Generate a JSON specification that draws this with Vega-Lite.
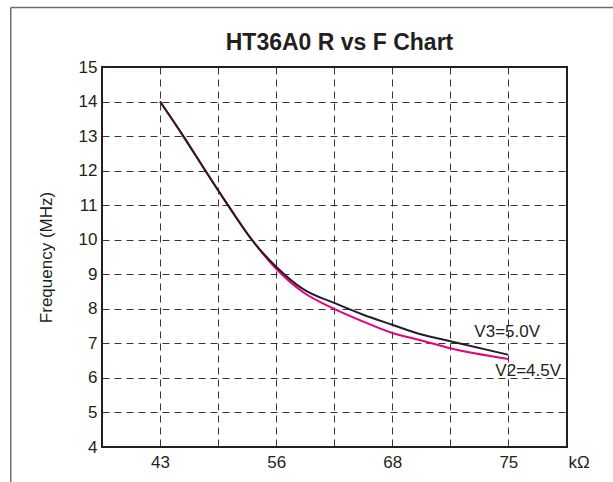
{
  "$schema": "https://vega.github.io/schema/vega-lite/v6.json",
  "autosize": {"type": "none"},
  "padding": {"left": 102, "top": 67, "right": 46, "bottom": 35},
  "width": 465,
  "height": 380,
  "background": "white",
  "title": {
    "text": "HT36A0 R vs F Chart",
    "font": "Liberation Sans",
    "fontSize": 23,
    "fontWeight": "bold",
    "color": "#231f20",
    "baseline": "alphabetic",
    "frame": "group",
    "offset": -65.75,
    "dx": 5
  },
  "config": {
    "view": {"stroke": "#231f20", "strokeWidth": 2},
    "font": "Liberation Sans"
  },
  "datasets": {
    "curves": [
      {"R": 43, "F": 14.0, "series": "V2=4.5V"},
      {"R": 45.6, "F": 13.0, "series": "V2=4.5V"},
      {"R": 48.07, "F": 12.0, "series": "V2=4.5V"},
      {"R": 50.6, "F": 11.0, "series": "V2=4.5V"},
      {"R": 53.27, "F": 10.0, "series": "V2=4.5V"},
      {"R": 56, "F": 9.16, "series": "V2=4.5V"},
      {"R": 58.8, "F": 8.48, "series": "V2=4.5V"},
      {"R": 62, "F": 8.0, "series": "V2=4.5V"},
      {"R": 65, "F": 7.63, "series": "V2=4.5V"},
      {"R": 68, "F": 7.3, "series": "V2=4.5V"},
      {"R": 69.66, "F": 7.1, "series": "V2=4.5V"},
      {"R": 71.5, "F": 6.86, "series": "V2=4.5V"},
      {"R": 75, "F": 6.55, "series": "V2=4.5V"},
      {"R": 43, "F": 14.0, "series": "V3=5.0V"},
      {"R": 45.6, "F": 13.0, "series": "V3=5.0V"},
      {"R": 48.07, "F": 12.0, "series": "V3=5.0V"},
      {"R": 50.6, "F": 11.0, "series": "V3=5.0V"},
      {"R": 53.27, "F": 10.0, "series": "V3=5.0V"},
      {"R": 56, "F": 9.22, "series": "V3=5.0V"},
      {"R": 58.8, "F": 8.57, "series": "V3=5.0V"},
      {"R": 62, "F": 8.17, "series": "V3=5.0V"},
      {"R": 65, "F": 7.83, "series": "V3=5.0V"},
      {"R": 68, "F": 7.54, "series": "V3=5.0V"},
      {"R": 69.66, "F": 7.27, "series": "V3=5.0V"},
      {"R": 71.5, "F": 7.06, "series": "V3=5.0V"},
      {"R": 75, "F": 6.67, "series": "V3=5.0V"}
    ]
  },
  "encoding": {
    "x": {
      "field": "R",
      "type": "quantitative",
      "scale": {"domain": [36.5, 43, 56, 68, 75, 78.5], "range": [0, 58.05, 174.15, 290.25, 406.35, 465], "nice": false, "zero": false},
      "axis": {
        "values": [43, 49.5, 56, 62, 68, 71.5, 75],
        "labelExpr": "indexof([43,56,68,75], datum.value) >= 0 ? datum.label : ''",
        "title": "kΩ",
        "titleX": 466,
        "titleY": 20,
        "titleAlign": "left",
        "titleBaseline": "alphabetic",
        "titleFont": "Liberation Sans",
        "titleFontSize": 17,
        "titleFontWeight": "normal",
        "titleColor": "#231f20",
        "labelFont": "Liberation Sans",
        "labelFontSize": 17,
        "labelColor": "#231f20",
        "labelBaseline": "alphabetic",
        "labelPadding": 20,
        "labelFlush": false,
        "labelOverlap": false,
        "tickSize": 0,
        "domain": false,
        "grid": true,
        "gridColor": "#231f20",
        "gridDash": [7, 5],
        "gridWidth": 1,
        "gridOpacity": 0.9
      }
    },
    "y": {
      "field": "F",
      "type": "quantitative",
      "scale": {"domain": [4, 15], "nice": false, "zero": false},
      "axis": {
        "values": [4, 5, 6, 7, 8, 9, 10, 11, 12, 13, 14, 15],
        "title": "Frequency (MHz)",
        "titleX": -56,
        "titleY": 190,
        "titleAngle": 270,
        "titleAlign": "center",
        "titleBaseline": "middle",
        "titleFont": "Liberation Sans",
        "titleFontSize": 17,
        "titleFontWeight": "normal",
        "titleColor": "#231f20",
        "labelFont": "Liberation Sans",
        "labelFontSize": 17,
        "labelColor": "#231f20",
        "labelPadding": 5,
        "labelFlush": false,
        "labelOverlap": false,
        "tickSize": 0,
        "domain": false,
        "grid": true,
        "gridColor": "#231f20",
        "gridDash": [7, 5],
        "gridWidth": 1,
        "gridOpacity": 0.9
      }
    }
  },
  "layer": [
    {
      "data": {"values": [{"R": 26.28, "R2": 95, "F": 16.72}]},
      "mark": {"type": "rule", "stroke": "#6d6e71", "strokeWidth": 1.5, "clip": false},
      "encoding": {
        "x2": {"field": "R2"}
      }
    },
    {
      "data": {"values": [{"R": 26.28, "F": 16.72, "F2": 0}]},
      "mark": {"type": "rule", "stroke": "#6d6e71", "strokeWidth": 1.5, "clip": false},
      "encoding": {
        "y2": {"field": "F2"}
      }
    },
    {
      "data": {"name": "curves"},
      "mark": {"type": "line", "strokeWidth": 2, "interpolate": "monotone"},
      "encoding": {
        "color": {
          "field": "series",
          "type": "nominal",
          "scale": {"domain": ["V2=4.5V", "V3=5.0V"], "range": ["#e6007e", "#231f20"]},
          "legend": null
        },
        "order": {"field": "R"}
      }
    },
    {
      "data": {"name": "curves"},
      "transform": [{"filter": "datum.R == 75 && datum.series == 'V3=5.0V'"}],
      "mark": {"type": "text", "align": "left", "baseline": "alphabetic", "dx": -34, "dy": -18, "font": "Liberation Sans", "fontSize": 17, "color": "#231f20"},
      "encoding": {
        "text": {"field": "series"}
      }
    },
    {
      "data": {"name": "curves"},
      "transform": [{"filter": "datum.R == 75 && datum.series == 'V2=4.5V'"}],
      "mark": {"type": "text", "align": "left", "baseline": "alphabetic", "dx": -13, "dy": 17, "font": "Liberation Sans", "fontSize": 17, "color": "#231f20"},
      "encoding": {
        "text": {"field": "series"}
      }
    }
  ]
}
